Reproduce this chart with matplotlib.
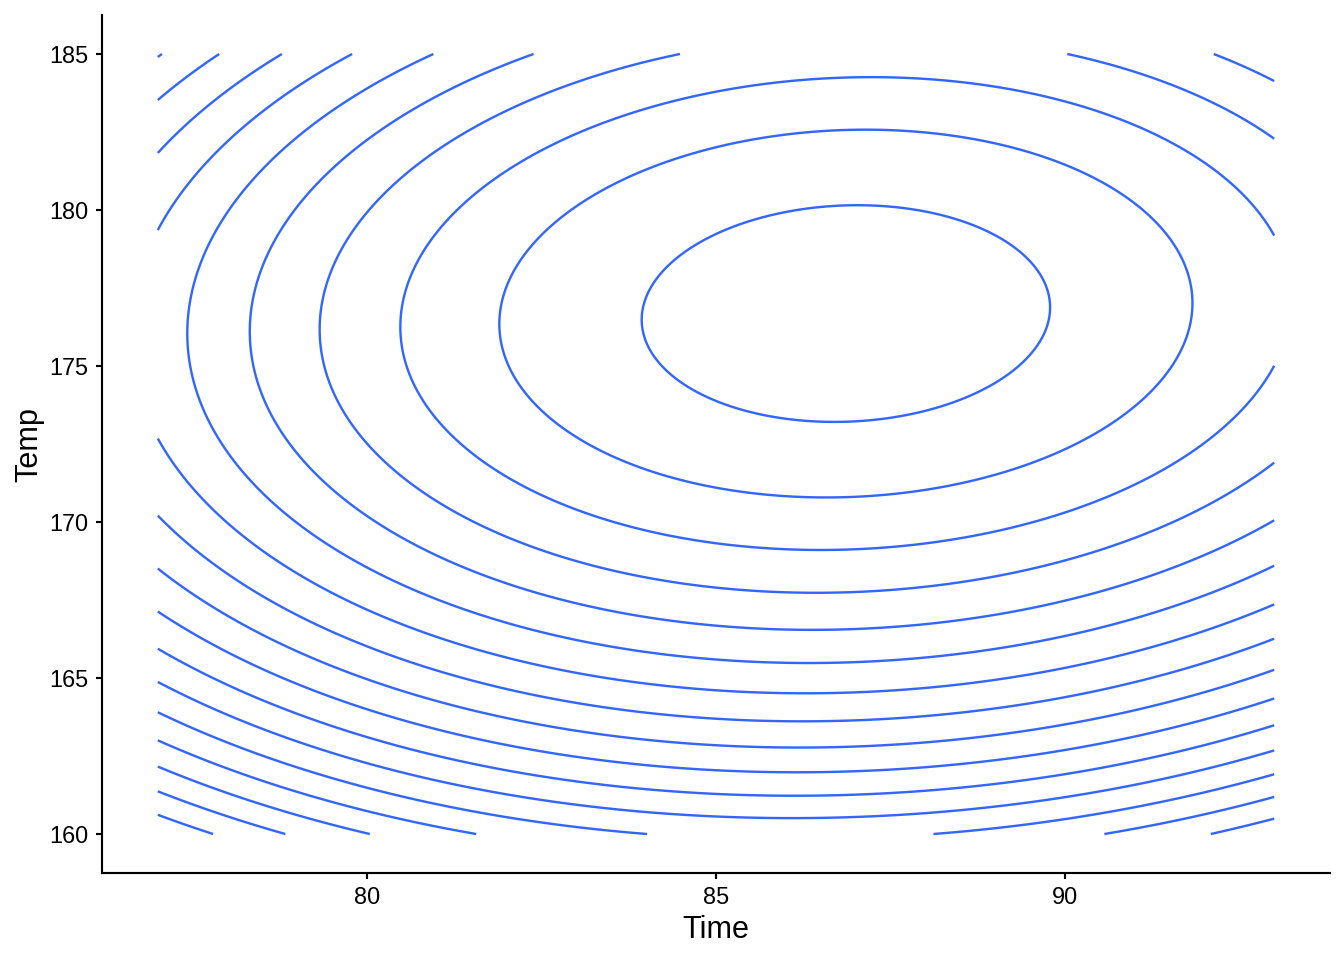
import numpy as np
import matplotlib
matplotlib.use("Agg")
import matplotlib.pyplot as plt

# Fitted second-order response surface (coded units: x1=(Time-85)/5, x2=(Temp-175)/5)
coef_names = ["b0", "b1", "b2", "b12", "b11", "b22"]
coef_vals = [81.866, 0.932, 0.578, 0.125, -1.308, -0.929]
time_range = [77, 93]
temp_range = [160, 185]
levels = [68.25, 69.09, 69.93, 70.77, 71.61, 72.45, 73.29, 74.13, 74.97,
          75.81, 76.65, 77.49, 78.33, 79.17, 80.01, 80.85, 81.69]
x_ticks = [80, 85, 90]
y_ticks = [160, 165, 170, 175, 180, 185]

c = dict(zip(coef_names, coef_vals))
t = np.linspace(time_range[0], time_range[1], 400)
T = np.linspace(temp_range[0], temp_range[1], 400)
TT, YY = np.meshgrid(t, T)
x1 = (TT - 85) / 5
x2 = (YY - 175) / 5
Z = (c["b0"] + c["b1"] * x1 + c["b2"] * x2 + c["b12"] * x1 * x2
     + c["b11"] * x1 ** 2 + c["b22"] * x2 ** 2)

plt.rcParams['font.family'] = ['Liberation Sans', 'DejaVu Sans']
fig = plt.figure(figsize=(7, 5), dpi=192)
ax = fig.add_axes([102 / 1344, 87 / 960, (1330 - 102) / 1344, (945 - 87) / 960])
ax.contour(TT, YY, Z, levels=levels, colors="#3366FF", linewidths=0.9)

ax.set_xlim(76.2, 93.8)
ax.set_ylim(158.75, 186.25)
ax.set_xticks(x_ticks)
ax.set_yticks(y_ticks)
for s in ["top", "right"]:
    ax.spines[s].set_visible(False)
for s in ["left", "bottom"]:
    ax.spines[s].set_linewidth(0.8)
    ax.spines[s].set_color("black")
ax.tick_params(axis="both", colors="black", labelsize=8.8, width=0.8, length=2.4, pad=2.6)
ax.set_xlabel("Time", fontsize=11.5, labelpad=2)
ax.set_ylabel("Temp", fontsize=11.5, labelpad=2)

fig.savefig("out.png", dpi=192, facecolor="white")
